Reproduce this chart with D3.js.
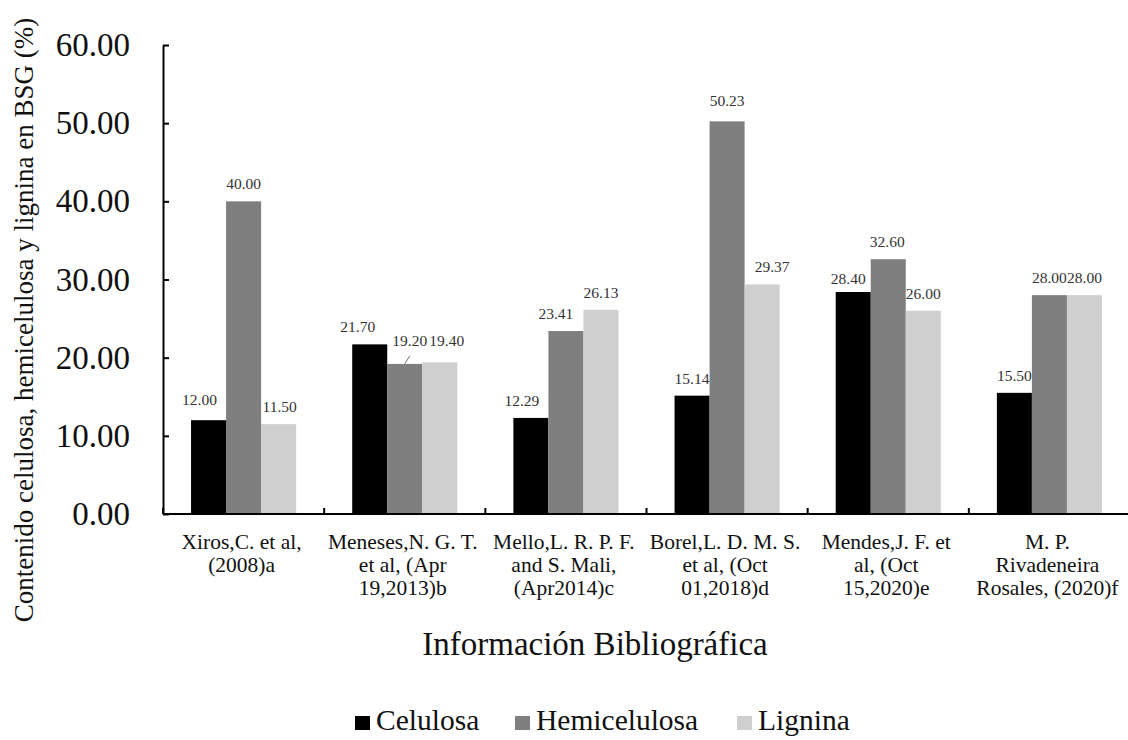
<!DOCTYPE html>
<html>
<head>
<meta charset="utf-8">
<script src="https://cdn.jsdelivr.net/npm/d3@7"></script>
<style>
  html, body { margin: 0; padding: 0; background: #fff; }
  svg { display: block; font-family: "Liberation Serif", "Times New Roman", serif; }
</style>
</head>
<body>
<svg id="chart" width="1128" height="740"></svg>
<script>
// ---- data ----
const categories = [
  "Xiros,C. et al,\n(2008)a",
  "Meneses,N. G. T.\net al, (Apr\n19,2013)b",
  "Mello,L. R. P. F.\nand S. Mali,\n(Apr2014)c",
  "Borel,L. D. M. S.\net al, (Oct\n01,2018)d",
  "Mendes,J. F. et\nal, (Oct\n15,2020)e",
  "M. P.\nRivadeneira\nRosales, (2020)f"
];
const seriesNames = ["Celulosa", "Hemicelulosa", "Lignina"];
const celulosa     = [12.00, 21.70, 12.29, 15.14, 28.40, 15.50];
const hemicelulosa = [40.00, 19.20, 23.41, 50.23, 32.60, 28.00];
const lignina      = [11.50, 19.40, 26.13, 29.37, 26.00, 28.00];
const yTicks = [0, 10, 20, 30, 40, 50, 60];
const yTitle = "Contenido celulosa, hemicelulosa y lignina en BSG (%)";
const xTitle = "Información Bibliográfica";

// ---- layout / style ----
const colors = ["#000000", "#7f7f7f", "#cfcfcf"];
const svg = d3.select("#chart");
const plotLeft = 163, plotRight = 1130, plotTop = 45, plotBottom = 514;

const x0 = d3.scaleBand().domain(d3.range(categories.length)).range([plotLeft, plotRight]).padding(0);
const x1 = d3.scaleBand().domain(d3.range(seriesNames.length))
  .range([x0.bandwidth() * 0.174, x0.bandwidth() * (1 - 0.174)]).padding(0);
const y = d3.scaleLinear().domain([0, 60]).range([plotBottom, plotTop]);

const seriesValues = [celulosa, hemicelulosa, lignina];
const rows = [];
seriesValues.forEach((vals, s) => vals.forEach((v, c) => rows.push({c, s, v})));

// bars
svg.append("g").selectAll("rect").data(rows).join("rect")
  .attr("x", d => x0(d.c) + x1(d.s))
  .attr("y", d => y(d.v))
  .attr("width", x1.bandwidth())
  .attr("height", d => y(0) - y(d.v))
  .attr("fill", d => colors[d.s]);

// value labels (small nudges mimic the manual label placement in the source)
const nudgeX = [[-9, 0, 1], [-12, 5, 7], [-9, -10, 0], [0, 0, 10], [-5, -1, 0], [0, 0, 0]];
const nudgeY = [[-3, 0, 0], [0, -6, -4], [0, 0, 0], [0, -3, 0], [4, 0, 0], [0, 0, 0]];
svg.append("g").selectAll("text").data(rows).join("text")
  .attr("x", d => x0(d.c) + x1(d.s) + x1.bandwidth() / 2 + nudgeX[d.c][d.s])
  .attr("y", d => y(d.v) - 12 + nudgeY[d.c][d.s])
  .attr("text-anchor", "middle")
  .attr("font-size", 15.5)
  .attr("fill", "#333")
  .text(d => d.v.toFixed(2));
// leader line for the displaced 19.20 label
const lead = rows.find(r => r.c === 1 && r.s === 1);
svg.append("line")
  .attr("x1", x0(lead.c) + x1(lead.s) + x1.bandwidth() / 2)
  .attr("y1", y(lead.v))
  .attr("x2", x0(lead.c) + x1(lead.s) + x1.bandwidth() / 2 + 5)
  .attr("y2", y(lead.v) - 8)
  .attr("stroke", "#777").attr("stroke-width", 1);

// y axis
const yAxis = svg.append("g").attr("transform", `translate(${plotLeft},0)`)
  .call(d3.axisLeft(y).tickValues(yTicks).tickSizeInner(-6).tickSizeOuter(0).tickPadding(33)
        .tickFormat(d3.format(".2f")));
yAxis.select(".domain").attr("stroke", "#000").attr("stroke-width", 2);
yAxis.selectAll(".tick line").attr("stroke", "#000").attr("stroke-width", 2);
yAxis.selectAll(".tick text").attr("font-size", 33).attr("fill", "#111")
  .attr("font-family", "Liberation Serif, Times New Roman, serif");

// x axis line + boundary ticks
svg.append("line").attr("x1", plotLeft).attr("x2", 1128).attr("y1", plotBottom).attr("y2", plotBottom)
  .attr("stroke", "#000").attr("stroke-width", 2);
const boundaries = d3.range(categories.length + 1).map(i => plotLeft + i * x0.step());
svg.append("g").selectAll("line").data(boundaries).join("line")
  .attr("x1", d => d).attr("x2", d => d).attr("y1", plotBottom).attr("y2", plotBottom - 6)
  .attr("stroke", "#000").attr("stroke-width", 2);

// category labels
const catG = svg.append("g").selectAll("text").data(categories).join("text")
  .attr("text-anchor", "middle")
  .attr("font-size", 21.5)
  .attr("fill", "#111");
catG.each(function(d, i) {
  const t = d3.select(this);
  d.split("\n").forEach((line, j) => {
    t.append("tspan").attr("x", x0(i) + x0.bandwidth() / 2 - 2).attr("y", 549 + j * 23).text(line);
  });
});

// axis titles
svg.append("text").attr("transform", "translate(33,320) rotate(-90)")
  .attr("text-anchor", "middle").attr("font-size", 27).attr("fill", "#111").text(yTitle);
svg.append("text").attr("x", 595).attr("y", 655)
  .attr("text-anchor", "middle").attr("font-size", 33).attr("fill", "#111").text(xTitle);

// legend
const legendX = [355, 515, 737];
const lg = svg.append("g").selectAll("g").data(seriesNames).join("g")
  .attr("transform", (d, i) => `translate(${legendX[i]},730)`);
lg.append("rect").attr("x", 0).attr("y", -14).attr("width", 15).attr("height", 14)
  .attr("fill", (d, i) => colors[i]);
lg.append("text").attr("x", 21).attr("y", 0).attr("font-size", 29.5).attr("fill", "#111").text(d => d);
</script>
</body>
</html>
